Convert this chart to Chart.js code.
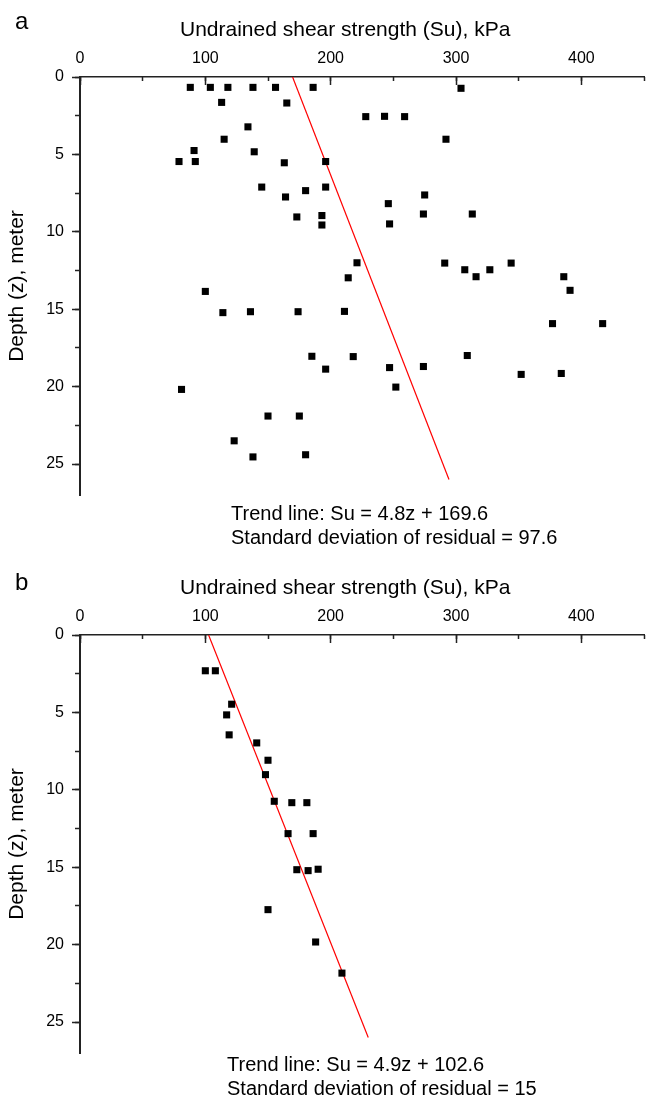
<!DOCTYPE html>
<html>
<head>
<meta charset="utf-8">
<script src="https://cdn.jsdelivr.net/npm/chart.js@4.4.1/dist/chart.umd.min.js"></script>
<style>
  body { margin: 0; background: #fff; }
  canvas { display: block; }
</style>
</head>
<body>
<canvas id="chartA" width="649" height="558"></canvas>
<canvas id="chartB" width="649" height="548"></canvas>
<script>
// panel a - Su (kPa) and depth (m)
var suA = [88, 104, 118, 138, 156, 186, 304,
  113, 165, 228, 243, 259, 134, 115, 292,
  91, 139, 79, 92, 196, 163,
  145, 196, 180, 164, 275, 246,
  274, 313, 193, 173, 193, 247,
  221, 214, 291, 307, 316, 327, 344, 386, 391, 100,
  114, 136, 174, 211, 377, 417,
  309, 185, 218, 196, 247, 274, 352, 384, 252, 81,
  150, 175, 123, 138, 180];
var depthA = [0.67, 0.67, 0.67, 0.67, 0.67, 0.67, 0.73,
  1.64, 1.68, 2.56, 2.54, 2.56, 3.22, 4.02, 4.02,
  4.75, 4.83, 5.46, 5.46, 5.46, 5.54,
  7.11, 7.11, 7.34, 7.75, 7.62, 8.18,
  8.85, 8.85, 8.95, 9.04, 9.56, 9.49,
  12.0, 12.97, 12.02, 12.45, 12.9, 12.45, 12.02, 12.9, 13.78, 13.85,
  15.22, 15.16, 15.16, 15.14, 15.93, 15.93,
  17.99, 18.04, 18.06, 18.87, 18.77, 18.7, 19.21, 19.15, 20.03, 20.18,
  21.9, 21.9, 23.5, 24.54, 24.4];

// panel b
var suB = [100, 108, 121, 117, 119, 141, 150, 148, 155, 169, 181, 166, 186, 173, 182, 190, 150, 188, 209];
var depthB = [2.31, 2.31, 4.47, 5.16, 6.45, 6.97, 8.09, 9.02, 10.74, 10.83, 10.83, 12.83, 12.83, 15.16, 15.22, 15.13, 17.74, 19.83, 21.84];

// trend lines: [slope, intercept], drawn over this depth range
var trendA = [4.8, 169.6];
var trendB = [4.9, 102.6];
var trendDepth = [0, 26];
var sdA = '97.6';
var sdB = '15';

var xTicks = [0, 100, 200, 300, 400];
var yTicks = [0, 5, 10, 15, 20, 25];

var FONT = '"Liberation Sans", Arial, sans-serif';

var textPlugin = {
  id: 'panelText',
  afterDraw: function(chart, args, opts) {
    var ctx = chart.ctx, a = chart.chartArea;
    ctx.save();
    ctx.fillStyle = '#000';
    ctx.textAlign = 'left';
    ctx.textBaseline = 'alphabetic';
    ctx.font = '24px ' + FONT;
    ctx.fillText(opts.letter, 15, a.top - opts.letterUp);
    ctx.font = '21px ' + FONT;
    ctx.fillText('Undrained shear strength (Su), kPa', 180, a.top - 41);
    ctx.font = '20px ' + FONT;
    for (var i = 0; i < opts.notes.length; i++) {
      ctx.fillText(opts.notes[i], opts.noteX, a.bottom + opts.noteGap + i * 24);
    }
    ctx.restore();
  }
};

function makeChart(id, su, depth, trend, sd, letter, letterUp, noteX, noteGap, padBottom) {
  var pts = su.map(function(v, i) { return {x: v, y: depth[i]}; });
  var line = trendDepth.map(function(z) { return {x: trend[0] * z + trend[1], y: z}; });
  return new Chart(document.getElementById(id), {
    type: 'scatter',
    data: {
      datasets: [{
        data: pts,
        pointStyle: 'rect',
        pointRadius: 5,
        pointHoverRadius: 5,
        backgroundColor: '#000',
        borderWidth: 0
      }, {
        data: line,
        showLine: true,
        pointRadius: 0,
        borderColor: '#ff0000',
        borderWidth: 1.2,
        fill: false
      }]
    },
    options: {
      responsive: false,
      animation: false,
      devicePixelRatio: 1,
      layout: { padding: { left: 0, right: 1, top: 0, bottom: padBottom } },
      plugins: {
        legend: { display: false },
        tooltip: { enabled: false },
        panelText: {
          letter: letter,
          letterUp: letterUp,
          noteX: noteX,
          noteGap: noteGap,
          notes: ['Trend line: Su = ' + trend[0] + 'z + ' + trend[1],
                  'Standard deviation of residual = ' + sd]
        }
      },
      scales: {
        x: {
          type: 'linear', position: 'top', min: 0, max: 450, weight: 1,
          border: { display: true, color: '#222', width: 1.5 },
          grid: { drawOnChartArea: false, color: '#222', tickLength: -8, tickWidth: 1.5 },
          ticks: {
            stepSize: 100, includeBounds: false, padding: 17, color: '#000',
            font: { family: FONT, size: 16 },
            callback: function(v) { return xTicks.indexOf(v) >= 0 ? String(v) : ''; }
          },
          afterFit: function(s) { s.height = 77; }
        },
        x2: {
          type: 'linear', position: 'top', min: 0, max: 450, weight: 0,
          border: { display: false },
          grid: { drawOnChartArea: false, color: '#222', tickLength: -4, tickWidth: 1.5 },
          ticks: { stepSize: 50, includeBounds: false, display: false },
          afterFit: function(s) { s.height = 0; }
        },
        y: {
          type: 'linear', position: 'left', min: 0, max: 27, reverse: true, weight: 1,
          border: { display: true, color: '#222', width: 2 },
          grid: { drawOnChartArea: false, color: '#222', tickLength: 8, tickWidth: 1.5 },
          ticks: {
            stepSize: 5, includeBounds: false, padding: 8, color: '#000',
            font: { family: FONT, size: 16 },
            callback: function(v) { return yTicks.indexOf(v) >= 0 ? String(v) : ''; }
          },
          title: {
            display: true, text: 'Depth (z), meter', color: '#000',
            font: { family: FONT, size: 21 }, padding: { top: 5, bottom: 0 }
          },
          afterFit: function(s) { s.width = 80; }
        },
        y2: {
          type: 'linear', position: 'left', min: 0, max: 27, reverse: true, weight: 0,
          border: { display: false },
          grid: { drawOnChartArea: false, color: '#222', tickLength: 5, tickWidth: 1.5 },
          ticks: { stepSize: 2.5, includeBounds: false, display: false },
          afterFit: function(s) { s.width = 0; }
        }
      }
    },
    plugins: [textPlugin]
  });
}

makeChart('chartA', suA, depthA, trendA, sdA, 'a', 48, 231, 25, 63);
makeChart('chartB', suB, depthB, trendB, sdB, 'b', 45, 227, 18, 53);
</script>
</body>
</html>
